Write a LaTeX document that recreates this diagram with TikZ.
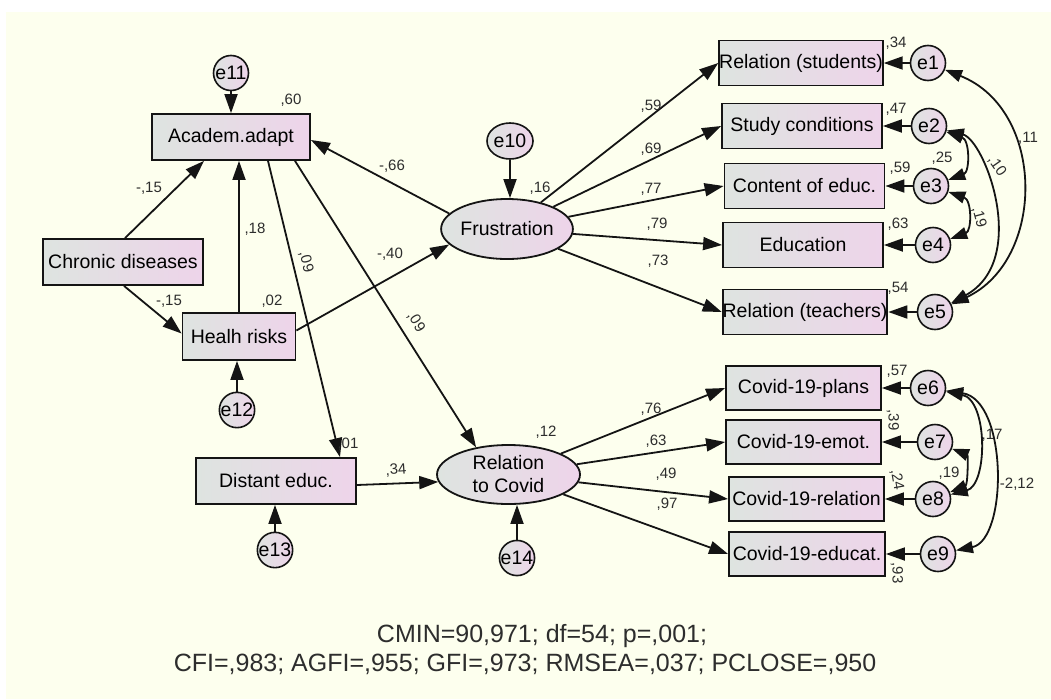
\documentclass[tikz,border=0pt]{standalone}
\usepackage{fontspec}
\setmainfont{Liberation Sans}
\usetikzlibrary{arrows.meta,shapes.geometric}
\definecolor{bgc}{RGB}{253,255,238}
\definecolor{gl}{RGB}{222,228,224}
\definecolor{gr}{RGB}{238,212,234}
\definecolor{lnc}{RGB}{20,20,20}
\definecolor{lblc}{RGB}{45,45,45}
\begin{document}
\begin{tikzpicture}[x=1pt,y=-1pt,
 obs/.style={draw=lnc,line width=1.8pt,left color=gl,right color=gr,minimum width=160pt,minimum height=46pt,inner sep=0pt,font=\fontsize{19.5}{22}\selectfont},
 err/.style={circle,draw=lnc,line width=1.6pt,left color=gl,right color=gr,minimum size=35pt,inner sep=0pt,font=\fontsize{19.5}{22}\selectfont},
 lat/.style={ellipse,draw=lnc,line width=1.8pt,left color=gl,right color=gr,inner sep=0pt,align=center,font=\fontsize{19.5}{23}\selectfont},
 reg/.style={-{Triangle[length=19pt,width=13pt]},line width=1.8pt,draw=lnc},
 cov/.style={{Triangle[length=17pt,width=12pt]}-{Triangle[length=17pt,width=12pt]},line width=1.8pt,draw=lnc},
 lbl/.style={font=\fontsize{15}{17}\selectfont,inner sep=0pt,text=lblc},
 fitl/.style={font=\fontsize{25}{28}\selectfont,inner sep=0pt,text=lblc}
]
\useasboundingbox (0,0) rectangle (1051,699);
\fill[white] (0,0) rectangle (1051,699);
\fill[bgc] (6,12) rectangle (1051,699);

% left observed
\node[obs,minimum width=158pt] (acad) at (231,137) {Academ.adapt};
\node[obs] (chron) at (123,262) {Chronic diseases};
\node[obs,minimum width=113pt,minimum height=47pt] (health) at (239,336.5) {Healh risks};
\node[obs] (dist) at (276,481) {Distant educ.};
\node[err] (e11) at (231,73) {e11};
\node[err] (e12) at (237,410) {e12};
\node[err] (e13) at (275,550) {e13};
% latent
\node[lat,minimum width=125pt,minimum height=60pt] (frus) at (507,229) {Frustration};
\node[ellipse,draw=lnc,line width=1.6pt,left color=gl,right color=gr,minimum width=40pt,minimum height=36pt,inner sep=0pt,font=\fontsize{19.5}{22}\selectfont] (e10) at (510,141) {e10};
\node[lat,minimum width=143pt,minimum height=59pt] (rcov) at (508.5,474.5) {Relation\\to Covid};
\node[err] (e14) at (517,558) {e14};
% right upper
\node[obs,minimum height=45pt] (b1) at (801,63) {Relation (students)};
\node[obs,minimum height=45pt] (b2) at (802,126) {Study conditions};
\node[obs,minimum height=45pt] (b3) at (804.5,186) {Content of educ.};
\node[obs,minimum height=45pt] (b4) at (803,245) {Education};
\node[obs,minimum height=45pt] (b5) at (805,312) {Relation (teachers)};
\node[err] (e1) at (928,63) {e1};
\node[err] (e2) at (929,126) {e2};
\node[err] (e3) at (931,186) {e3};
\node[err] (e4) at (933,245) {e4};
\node[err] (e5) at (935,312) {e5};
% right lower
\node[obs,minimum width=155pt,minimum height=44pt] (c1) at (803.5,388) {Covid-19-plans};
\node[obs,minimum width=155pt,minimum height=44pt] (c2) at (803.5,442) {Covid-19-emot.};
\node[obs,minimum width=155pt,minimum height=44pt] (c3) at (806.5,499) {Covid-19-relation};
\node[obs,minimum width=156pt,minimum height=44pt] (c4) at (807,554) {Covid-19-educat.};
\node[err] (e6) at (928,388) {e6};
\node[err] (e7) at (935,442) {e7};
\node[err] (e8) at (933,499) {e8};
\node[err] (e9) at (938,554) {e9};

% error arrows
\draw[reg] (e11) -- (e11 |- acad.north);
\draw[reg] (e12) -- (e12 |- health.south);
\draw[reg] (e13) -- (e13 |- dist.south);
\draw[reg] (e10) -- (e10 |- frus.north);
\draw[reg] (e14) -- (e14 |- rcov.south);
\foreach \e/\b in {e1/b1,e2/b2,e3/b3,e4/b4,e5/b5,e6/c1,e7/c2,e8/c3,e9/c4}
  \draw[reg] (\e) -- (\b.east);

% structural arrows
\draw[reg] ([xshift=2pt]chron.north) -- ([xshift=-27pt]acad.south);
\draw[reg] ([xshift=1pt]chron.south) -- ([yshift=3pt]health.west);
\draw[reg] (health.north) -- (health.north |- acad.south);
\draw[reg] ([xshift=37pt]acad.south) -- ([xshift=64pt]dist.north);
\draw[reg] ([xshift=64pt]acad.south) -- (rcov.140);
\draw[reg] (frus.165) -- ([yshift=-3pt]acad.east);
\draw[reg] ([yshift=6pt]health.east) -- (frus.195);
\draw[reg] ([yshift=-4pt]dist.east) -- (rcov.186);
\foreach \b in {b1,b2,b3,b4,b5} \draw[reg] (frus) -- (\b.west);
\foreach \b in {c1,c2,c3,c4} \draw[reg] (rcov) -- (\b.west);

% covariances
\draw[cov] (e1) .. controls (1046,110) and (1046,260) .. (e5);
\draw[cov] (e2) .. controls (985,140) and (1030,260) .. (e5);
\draw[cov] (e2) .. controls (970,140) and (970,172) .. (e3);
\draw[cov] (e3) .. controls (972,200) and (972,231) .. (e4);
\draw[cov] (e6) .. controls (988,400) and (988,485) .. (e8);
\draw[cov] (e7) .. controls (968,455) and (968,485) .. (e8);
\draw[cov] (e6) .. controls (1008,400) and (1008,540) .. (e9);

% labels
\node[lbl] (l1) at (291,100) {,60};
\node[lbl] (l2) at (149,188) {-,15};
\node[lbl] (l3) at (255,229) {,18};
\node[lbl,rotate=-76] (l4) at (306,262) {,09};
\node[lbl] (l5) at (169,301) {-,15};
\node[lbl] (l6) at (272,301) {,02};
\node[lbl] (l7) at (392,166) {-,66};
\node[lbl] (l8) at (390,254) {-,40};
\node[lbl,rotate=-58] (l9) at (416,322) {,09};
\node[lbl] (l10) at (540,188) {,16};
\node[lbl] (l11) at (651,106) {,59};
\node[lbl] (l12) at (651,149) {,69};
\node[lbl] (l13) at (651,189) {,77};
\node[lbl] (l14) at (657,224) {,79};
\node[lbl] (l15) at (658,261) {,73};
\node[lbl] (l16) at (896,43) {,34};
\node[lbl] (l17) at (896,109) {,47};
\node[lbl] (l18) at (900,168) {,59};
\node[lbl] (l19) at (942,158) {,25};
\node[lbl] (l20) at (898,224) {,63};
\node[lbl,rotate=-75] (l21) at (979,217) {,19};
\node[lbl] (l22) at (898,288) {,54};
\node[lbl] (l23) at (1028,138) {,11};
\node[lbl,rotate=-55] (l24) at (997,166) {,10};
\node[lbl] (l25) at (651,409) {,76};
\node[lbl] (l26) at (656,441) {,63};
\node[lbl] (l27) at (666,474) {,49};
\node[lbl] (l28) at (667,504) {,97};
\node[lbl] (l29) at (546,432) {,12};
\node[lbl,rotate=4] (l30) at (396,470) {,34};
\node[lbl] (l31) at (348,444) {,01};
\node[lbl] (l32) at (897,371) {,57};
\node[lbl,rotate=-90] (l33) at (893,420) {,39};
\node[lbl,rotate=-80] (l34) at (897,480) {,24};
\node[lbl] (l35) at (949,473) {,19};
\node[lbl] (l36) at (992,435) {,17};
\node[lbl] (l37) at (1017,484) {-2,12};
\node[lbl,rotate=-90] (l38) at (897,573) {,93};

\node[fitl] (fit1) at (542,636) {CMIN=90,971; df=54; p=,001;};
\node[fitl] (fit2) at (525,664) {CFI=,983; AGFI=,955; GFI=,973; RMSEA=,037; PCLOSE=,950};
\end{tikzpicture}
\end{document}
